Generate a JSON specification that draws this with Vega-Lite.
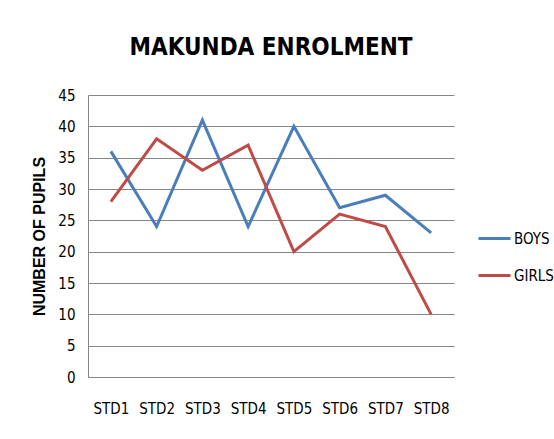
{
  "$schema": "https://vega.github.io/schema/vega-lite/v6.json",
  "width": 366,
  "height": 282,
  "autosize": {"type": "none"},
  "padding": {"left": 88, "top": 95, "right": 100, "bottom": 62},
  "background": "white",
  "title": {
    "text": "MAKUNDA ENROLMENT",
    "font": "DejaVu Sans Condensed, Liberation Sans",
    "fontSize": 24,
    "fontWeight": "bold",
    "color": "#000000",
    "anchor": "middle",
    "offset": 28
  },
  "data": {
    "values": [
      {"std": "STD1", "group": "BOYS", "pupils": 36},
      {"std": "STD2", "group": "BOYS", "pupils": 24},
      {"std": "STD3", "group": "BOYS", "pupils": 41},
      {"std": "STD4", "group": "BOYS", "pupils": 24},
      {"std": "STD5", "group": "BOYS", "pupils": 40},
      {"std": "STD6", "group": "BOYS", "pupils": 27},
      {"std": "STD7", "group": "BOYS", "pupils": 29},
      {"std": "STD8", "group": "BOYS", "pupils": 23},
      {"std": "STD1", "group": "GIRLS", "pupils": 28},
      {"std": "STD2", "group": "GIRLS", "pupils": 38},
      {"std": "STD3", "group": "GIRLS", "pupils": 33},
      {"std": "STD4", "group": "GIRLS", "pupils": 37},
      {"std": "STD5", "group": "GIRLS", "pupils": 20},
      {"std": "STD6", "group": "GIRLS", "pupils": 26},
      {"std": "STD7", "group": "GIRLS", "pupils": 24},
      {"std": "STD8", "group": "GIRLS", "pupils": 10}
    ]
  },
  "mark": {"type": "line", "strokeWidth": 3},
  "encoding": {
    "x": {
      "field": "std",
      "type": "nominal",
      "sort": null,
      "axis": {
        "title": null,
        "labelAngle": 0,
        "ticks": false,
        "labelPadding": 24,
        "labelFont": "DejaVu Sans Condensed, Liberation Sans",
        "labelFontSize": 15,
        "labelColor": "#000000",
        "domainColor": "#868686",
        "grid": false
      }
    },
    "y": {
      "field": "pupils",
      "type": "quantitative",
      "scale": {"domain": [0, 45], "nice": false},
      "axis": {
        "title": "NUMBER OF PUPILS",
        "titleFont": "Liberation Sans",
        "titleFontSize": 16,
        "titleFontWeight": "bold",
        "titleColor": "#000000",
        "titlePadding": 10,
        "values": [0, 5, 10, 15, 20, 25, 30, 35, 40, 45],
        "ticks": false,
        "labelPadding": 13,
        "labelFont": "DejaVu Sans Condensed, Liberation Sans",
        "labelFontSize": 15,
        "labelColor": "#000000",
        "domainColor": "#868686",
        "gridColor": "#868686",
        "gridOpacity": 1
      }
    },
    "color": {
      "field": "group",
      "type": "nominal",
      "scale": {"domain": ["BOYS", "GIRLS"], "range": ["#4A7EBB", "#BE4B48"]},
      "legend": {
        "title": null,
        "orient": "none",
        "legendX": 389,
        "legendY": 126,
        "symbolType": "stroke",
        "symbolSize": 1024,
        "symbolStrokeWidth": 3,
        "labelOffset": 2,
        "rowPadding": 11,
        "labelFont": "DejaVu Sans Condensed, Liberation Sans",
        "labelFontSize": 15,
        "labelColor": "#000000"
      }
    }
  },
  "config": {"view": {"stroke": null}}
}
